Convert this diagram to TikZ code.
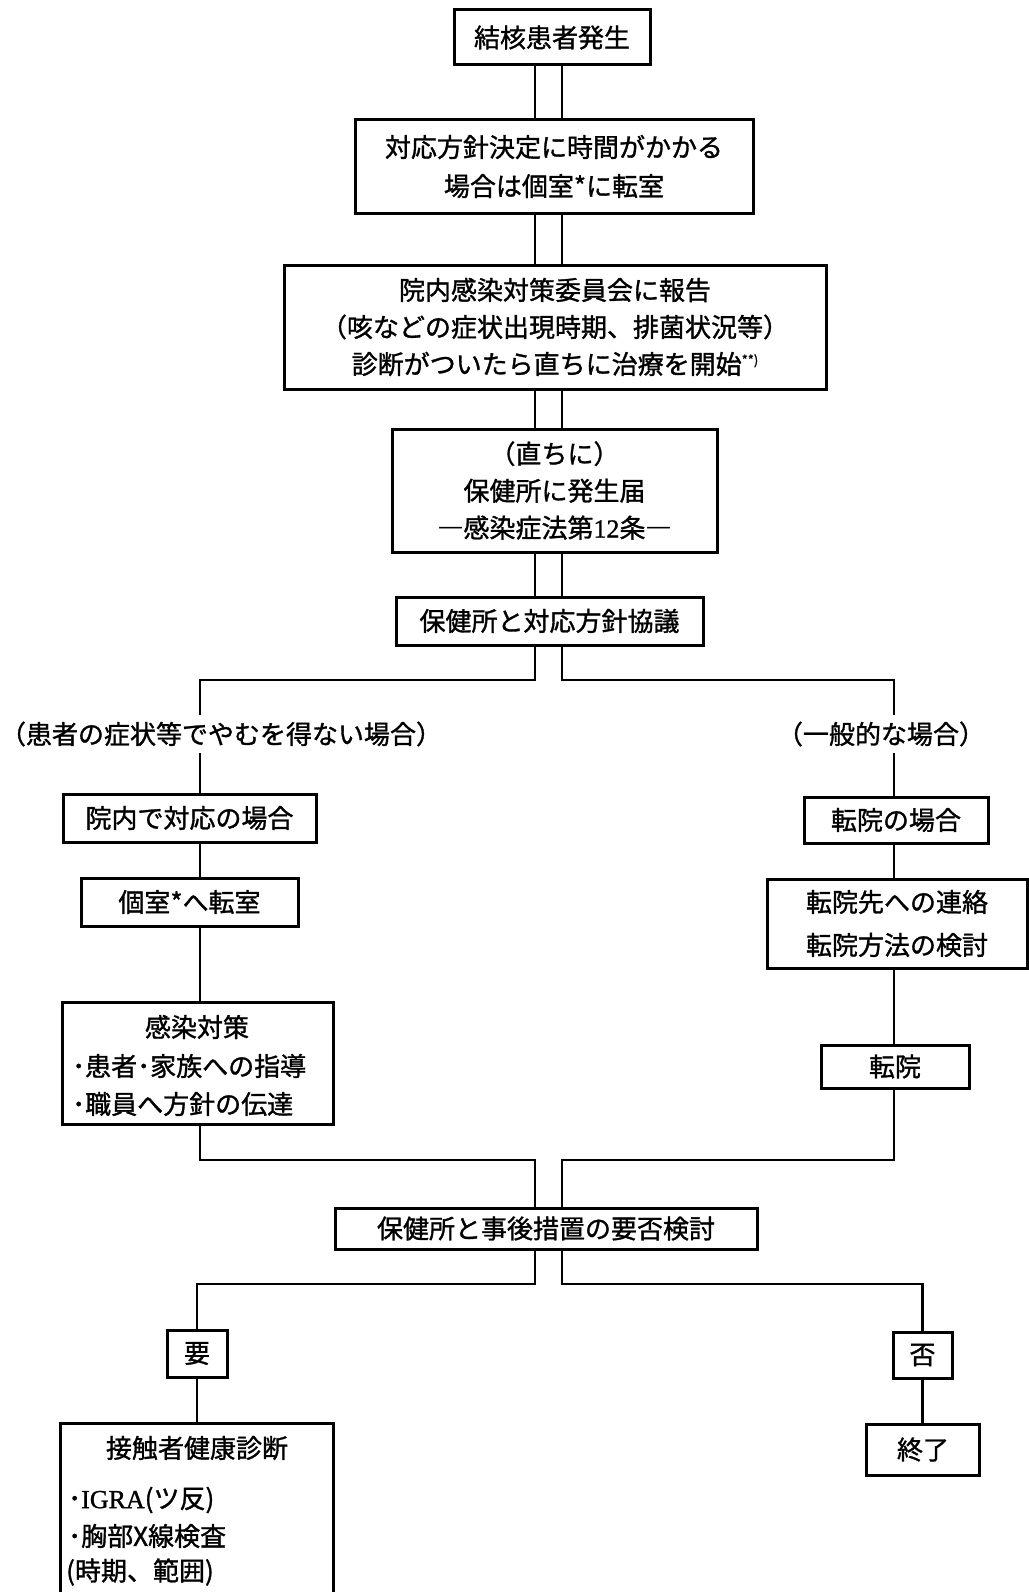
\documentclass[tikz,border=0pt]{standalone}
\usepackage{fontspec}
\setmainfont{Noto Sans CJK JP}[FakeBold=1.2]
\newfontfamily\latinserif{Liberation Serif}[FakeBold=1.2]
\begin{document}
\begin{tikzpicture}[x=1pt,y=-1pt,
  box/.style={draw, line width=3pt, inner sep=0pt, align=center,
    font=\fontsize{26}{37}\selectfont},
  txt/.style={inner sep=0pt, font=\fontsize{26}{37}\selectfont},
  lbl/.style={fill=white, inner xsep=0pt, inner ysep=7pt,
    font=\fontsize{26}{30}\selectfont},
  conn/.style={line width=2.5pt}]
\fill[white] (0,0) rectangle (1028,1592);
\useasboundingbox (0,0) rectangle (1028,1592);
% guide coordinates
\coordinate (cl) at (535,0);
\coordinate (cr) at (562,0);
\coordinate (lx) at (200,0);
\coordinate (rx) at (894,0);
\coordinate (hy1) at (0,680);
\coordinate (hy2) at (0,1160);
\coordinate (hy3) at (0,1284);
% central boxes
\node[box, minimum width=196pt, minimum height=55pt] (b1) at (552,37.5) {結核患者発生};
\node[box, minimum width=398pt, minimum height=93pt] (b2) at (554,166.5)
  {対応方針決定に時間がかかる\\[2pt]場合は個室*に転室};
\node[box, minimum width=542pt, minimum height=124pt] (b3) at (555,327)
  {院内感染対策委員会に報告\\（咳などの症状出現時期、排菌状況等）\\診断がついたら直ちに治療を開始\raisebox{9pt}{\fontsize{13}{13}\selectfont **)}};
\node[box, minimum width=325pt, minimum height=123pt] (b4) at (554.5,490.5)
  {（直ちに）\\保健所に発生届\\―感染症法第{\latinserif 12}条―};
\node[box, minimum width=307pt, minimum height=48pt] (b5) at (549.5,621) {保健所と対応方針協議};
% left branch
\node[box, minimum width=253pt, minimum height=48pt] (L1) at (189.5,818) {院内で対応の場合};
\node[box, minimum width=217pt, minimum height=48pt] (L2) at (189.5,902) {個室*へ転室};
\node[box, minimum width=271pt, minimum height=122pt] (L3) at (197.5,1063) {};
\node[txt] (L3a) at (197,1027) {感染対策};
\node[txt, anchor=west] (L3b) at (72,1066) {･患者･家族への指導};
\node[txt, anchor=west] (L3c) at (72,1104) {･職員へ方針の伝達};
% right branch
\node[box, minimum width=184pt, minimum height=46pt] (R1) at (896,820) {転院の場合};
\node[box, minimum width=260pt, minimum height=89pt] (R2) at (897,923.5)
  {転院先への連絡\\[6pt]転院方法の検討};
\node[box, minimum width=148pt, minimum height=43pt] (R3) at (895,1066.5) {転院};
% merge
\node[box, minimum width=422pt, minimum height=41pt] (b6) at (546,1228.5) {保健所と事後措置の要否検討};
\node[box, minimum width=60pt, minimum height=47pt] (Y) at (197,1353.5) {要};
\node[box, minimum width=59pt, minimum height=46pt] (N) at (922.5,1355) {否};
\node[box, minimum width=113pt, minimum height=51pt] (E) at (923,1449.5) {終了};
\node[box, minimum width=273pt, minimum height=200pt] (K) at (196.5,1523) {};
\node[txt] (Ka) at (197,1448) {接触者健康診断};
\node[txt, anchor=west] (Kb) at (68,1500) {･{\latinserif IGRA}(ツ反)};
\node[txt, anchor=west] (Kc) at (68,1536) {･胸部X線検査};
\node[txt, anchor=west] (Kd) at (66,1572) {(時期、範囲)};
% connectors: double lines
\foreach \c in {cl,cr} {
  \draw[conn] (b1.south -| \c) -- (b2.north -| \c);
  \draw[conn] (b2.south -| \c) -- (b3.north -| \c);
  \draw[conn] (b3.south -| \c) -- (b4.north -| \c);
  \draw[conn] (b4.south -| \c) -- (b5.north -| \c);
}
\draw[conn] (b5.south -| cl) -- (cl |- hy1) -- (lx |- hy1) -- (L1.north -| lx);
\draw[conn] (b5.south -| cr) -- (cr |- hy1) -- (rx |- hy1) -- (R1.north -| rx);
\node[lbl] (labL) at (221,734) {（患者の症状等でやむを得ない場合）};
\node[lbl] (labR) at (881,734) {（一般的な場合）};
\draw[conn] (L1.south -| lx) -- (L2.north -| lx);
\draw[conn] (L2.south -| lx) -- (L3.north -| lx);
\draw[conn] (R1.south -| rx) -- (R2.north -| rx);
\draw[conn] (R2.south -| rx) -- (R3.north -| rx);
\draw[conn] (L3.south -| lx) -- (lx |- hy2) -- (cl |- hy2) -- (b6.north -| cl);
\draw[conn] (R3.south -| rx) -- (rx |- hy2) -- (cr |- hy2) -- (b6.north -| cr);
\draw[conn] (b6.south -| cl) -- (cl |- hy3) -- (Y.north |- hy3) -- (Y.north);
\draw[conn] (b6.south -| cr) -- (cr |- hy3) -- (N.north |- hy3) -- (N.north);
\draw[conn] (Y.south) -- (K.north -| Y.south);
\draw[conn] (N.south) -- (E.north -| N.south);
\end{tikzpicture}
\end{document}
